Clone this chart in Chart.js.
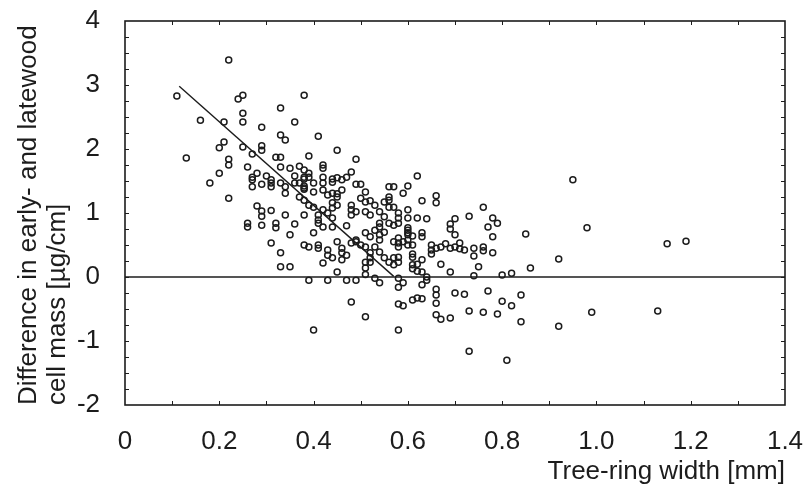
<!DOCTYPE html>
<html>
<head>
<meta charset="utf-8">
<script src="https://cdn.jsdelivr.net/npm/chart.js@4"></script>
<style>
  html, body { margin: 0; padding: 0; background: #fff; }
  #wrap { width: 809px; height: 492px; }
</style>
</head>
<body>
<div id="wrap"><canvas id="ring-chart"></canvas></div>
<script>
// tree-ring width [mm] and early/latewood cell mass difference [µg/cm]
const ringWidth = [
  0.11, 0.22, 0.24, 0.25, 0.38, 0.33, 0.16, 0.21, 0.25, 0.25, 0.36, 0.29, 0.33, 0.34, 0.41, 0.21, 0.20, 0.25, 0.29, 0.29, 0.27, 0.45,
  0.13, 0.22, 0.22, 0.32, 0.33, 0.39, 0.49, 0.26, 0.33, 0.35, 0.37, 0.42, 0.42, 0.20, 0.28, 0.30, 0.36, 0.39, 0.18, 0.27, 0.27, 0.29,
  0.31, 0.31, 0.33, 0.34, 0.34, 0.38, 0.40, 0.40, 0.39, 0.38, 0.42, 0.42, 0.44, 0.44, 0.45, 0.46, 0.47, 0.48, 0.38, 0.27, 0.31, 0.38,
  0.38, 0.36, 0.37, 0.38, 0.49, 0.50, 0.56, 0.57, 0.60, 0.62,
  0.37, 0.38, 0.39, 0.40, 0.42, 0.43, 0.44, 0.45, 0.45, 0.46, 0.51, 0.50, 0.51, 0.52, 0.53, 0.44, 0.44, 0.45, 0.48, 0.48, 0.48, 0.49,
  0.56, 0.55, 0.56, 0.56, 0.57, 0.58, 0.60, 0.42, 0.43, 0.41, 0.51, 0.52, 0.54, 0.63, 0.66, 0.66, 0.22, 0.28, 0.29, 0.29, 0.31, 0.34,
  0.38, 0.59, 0.76,
  0.62, 0.64, 0.73, 0.78, 0.79, 0.70, 0.69, 0.69, 0.70, 0.77, 0.78, 0.85, 0.60, 0.60, 0.60, 0.61, 0.63, 0.63, 0.65, 0.65, 0.66, 0.67,
  0.68, 0.69, 0.70, 0.71, 0.71, 0.72, 0.74, 0.74, 0.76, 0.76, 0.78, 0.65, 0.61, 0.61, 0.63, 0.61, 0.62, 0.61, 0.62, 0.63, 0.64, 0.64,
  0.63, 0.67, 0.75, 0.69, 0.74, 0.80, 0.82, 0.86, 0.66, 0.66, 0.66, 0.70, 0.72, 0.77, 0.84, 0.61, 0.62, 0.63, 0.66, 0.67, 0.69, 0.73,
  0.76, 0.79, 0.80, 0.82, 0.84, 0.73, 0.81, 0.95, 0.98, 1.15, 1.19, 0.92, 0.92, 0.99, 1.13, 0.48, 0.51, 0.58, 0.59, 0.58, 0.45, 0.43,
  0.47, 0.49, 0.39, 0.51, 0.51, 0.53, 0.54, 0.58, 0.59, 0.58, 0.40,
  0.26, 0.26, 0.29, 0.32, 0.32, 0.36, 0.41, 0.42, 0.35, 0.40, 0.31, 0.38, 0.39, 0.41, 0.41, 0.43, 0.43, 0.44, 0.42, 0.33, 0.33, 0.35,
  0.41, 0.44, 0.44, 0.47, 0.55, 0.54, 0.56, 0.57, 0.58, 0.60, 0.58, 0.45, 0.46, 0.46, 0.47, 0.46, 0.48, 0.49, 0.50, 0.49, 0.51, 0.52,
  0.53, 0.54, 0.54, 0.53, 0.54, 0.55, 0.54, 0.51, 0.52, 0.52, 0.52, 0.51, 0.55, 0.56, 0.57, 0.58, 0.58, 0.57, 0.57, 0.58, 0.58, 0.58,
  0.59, 0.60, 0.60, 0.61, 0.60
];
const massDiff = [
  2.83, 3.39, 2.78, 2.84, 2.84, 2.64, 2.45, 2.42, 2.56, 2.42, 2.42, 2.34, 2.22, 2.14, 2.20, 2.11, 2.02, 2.03, 2.05, 1.98, 1.92, 1.98,
  1.86, 1.84, 1.75, 1.87, 1.87, 1.89, 1.84, 1.72, 1.72, 1.70, 1.73, 1.75, 1.70, 1.62, 1.62, 1.58, 1.58, 1.62, 1.47, 1.52, 1.41, 1.45,
  1.47, 1.41, 1.47, 1.41, 1.31, 1.42, 1.47, 1.33, 1.56, 1.53, 1.56, 1.47, 1.53, 1.48, 1.55, 1.52, 1.56, 1.64, 1.37, 1.56, 1.52, 1.67,
  1.56, 1.47, 1.47, 1.39, 1.45, 1.45, 1.41, 1.41, 1.42, 1.58,
  1.25, 1.20, 1.12, 1.09, 1.36, 1.28, 1.31, 1.30, 1.25, 1.36, 1.33, 1.23, 1.17, 1.19, 1.12, 1.16, 1.08, 1.12, 1.12, 1.05, 0.97, 1.02,
  1.25, 1.17, 1.20, 1.09, 1.09, 1.00, 1.05, 1.05, 1.00, 0.97, 1.02, 0.97, 1.02, 1.19, 1.27, 1.16, 1.23, 1.11, 1.03, 0.95, 1.04, 0.97,
  0.97, 1.31, 1.09,
  0.92, 0.91, 0.95, 0.92, 0.84, 0.91, 0.83, 0.75, 0.66, 0.78, 0.63, 0.67, 0.77, 0.69, 0.58, 0.64, 0.69, 0.63, 0.50, 0.42, 0.45, 0.47,
  0.52, 0.45, 0.47, 0.53, 0.44, 0.42, 0.45, 0.33, 0.47, 0.41, 0.38, 0.36, 0.36, 0.31, 0.27, 0.19, 0.20, 0.13, 0.09, 0.08, 0.00, -0.05,
  -0.12, 0.20, 0.16, 0.08, 0.02, 0.03, 0.06, 0.14, -0.19, -0.28, -0.41, -0.25, -0.27, -0.22, -0.28, -0.36, -0.33, -0.34, -0.59, -0.66, -0.64, -0.53,
  -0.55, -0.58, -0.38, -0.45, -0.70, -1.16, -1.30, 1.52, 0.77, 0.52, 0.56, 0.28, -0.77, -0.55, -0.53, -0.39, -0.62, -0.42, -0.45, -0.83, 0.08, -0.05,
  -0.05, -0.05, -0.05, 0.14, 0.04, -0.02, -0.09, -0.02, -0.09, -0.16, -0.83,
  0.84, 0.78, 0.81, 0.84, 0.77, 0.83, 0.84, 0.78, 0.66, 0.69, 0.53, 0.50, 0.47, 0.50, 0.45, 0.42, 0.34, 0.30, 0.22, 0.38, 0.16, 0.16,
  0.89, 0.92, 0.78, 0.80, 0.94, 0.84, 0.84, 0.81, 0.92, 0.92, 0.84, 0.55, 0.45, 0.38, 0.34, 0.27, 0.53, 0.55, 0.50, 0.58, 0.69, 0.63,
  0.73, 0.66, 0.58, 0.47, 0.39, 0.70, 0.78, 0.47, 0.38, 0.30, 0.23, 0.23, 0.30, 0.23, 0.30, 0.31, 0.23, 0.19, 0.55, 0.61, 0.53, 0.47,
  0.55, 0.73, 0.50, 0.50, 0.66
];

// regression line and zero reference line
const fitWidth = [0.115, 0.57];
const fitDiff = [2.98, 0.01];
const zeroWidth = [0, 1.4];
const zeroDiff = [0, 0];

const ink = '#1c1c1c';
const fontFamily = "'Liberation Sans', Arial, Helvetica, sans-serif";

function toPoints(xs, ys) {
    return xs.map((x, i) => ({ x: x, y: ys[i] }));
}

// box around the plot with small inward ticks on all four sides
const framePlugin = {
    id: 'frame',
    afterDraw(chart) {
        const ctx = chart.ctx;
        const a = chart.chartArea;
        const xs = chart.scales.x;
        const ys = chart.scales.y;
        ctx.save();
        ctx.strokeStyle = ink;
        ctx.lineWidth = 1.6;
        ctx.strokeRect(a.left, a.top, a.right - a.left, a.bottom - a.top);
        ctx.lineWidth = 1;
        ctx.beginPath();
        for (let i = 1; i < 14; i++) {
            const px = Math.round(xs.getPixelForValue(i / 10)) + 0.5;
            ctx.moveTo(px, a.bottom); ctx.lineTo(px, a.bottom - 4);
            ctx.moveTo(px, a.top); ctx.lineTo(px, a.top + 4);
        }
        for (let i = 1; i < 24; i++) {
            const py = Math.round(ys.getPixelForValue(-2 + i * 0.25)) + 0.5;
            ctx.moveTo(a.left, py); ctx.lineTo(a.left + 4, py);
            ctx.moveTo(a.right, py); ctx.lineTo(a.right - 4, py);
        }
        ctx.stroke();
        ctx.restore();
    }
};

const ctx = document.getElementById('ring-chart').getContext('2d');
const chart = new Chart(ctx, {
    type: 'scatter',
    data: {
        datasets: [
            {
                label: 'zero',
                data: toPoints(zeroWidth, zeroDiff),
                showLine: true,
                borderColor: ink,
                borderWidth: 1.3,
                pointRadius: 0
            },
            {
                label: 'fit',
                data: toPoints(fitWidth, fitDiff),
                showLine: true,
                borderColor: ink,
                borderWidth: 1.4,
                pointRadius: 0
            },
            {
                label: 'samples',
                data: toPoints(ringWidth, massDiff),
                pointRadius: 3,
                borderWidth: 1.5,
                borderColor: ink,
                backgroundColor: 'rgba(0,0,0,0)'
            }
        ]
    },
    options: {
        responsive: true,
        maintainAspectRatio: false,
        animation: false,
        layout: { padding: { top: 21, right: 24, left: 0, bottom: 0 } },
        plugins: {
            legend: { display: false },
            tooltip: { enabled: false }
        },
        scales: {
            x: {
                type: 'linear',
                min: 0,
                max: 1.4,
                afterFit: scale => {
                    scale.height = 87;
                    scale.paddingLeft = 0;
                    scale.paddingRight = 0;
                },
                grid: { display: false },
                border: { display: false },
                ticks: {
                    stepSize: 0.2,
                    autoSkip: false,
                    maxRotation: 0,
                    padding: 13,
                    color: ink,
                    font: { family: fontFamily, size: 26 },
                    callback: v => (Math.abs(v) < 1e-9 ? '0' : Number(v).toFixed(1))
                },
                title: {
                    display: true,
                    text: 'Tree-ring width [mm]',
                    align: 'end',
                    color: ink,
                    padding: { top: 0, bottom: 5 },
                    font: { family: fontFamily, size: 26 }
                }
            },
            y: {
                type: 'linear',
                min: -2,
                max: 4,
                afterFit: scale => {
                    scale.width = 125;
                    scale.paddingTop = 0;
                    scale.paddingBottom = 0;
                },
                grid: { display: false },
                border: { display: false },
                ticks: {
                    stepSize: 1,
                    padding: 17,
                    color: ink,
                    font: { family: fontFamily, size: 26 },
                    callback: v => String(Math.round(v))
                },
                title: {
                    display: true,
                    text: ['Difference in early- and latewood', 'cell mass [\u00b5g/cm]'],
                    align: 'start',
                    color: ink,
                    padding: { top: 15, bottom: 0 },
                    font: { family: fontFamily, size: 26, lineHeight: 1.1 }
                }
            }
        }
    },
    plugins: [framePlugin]
});
</script>
</body>
</html>
